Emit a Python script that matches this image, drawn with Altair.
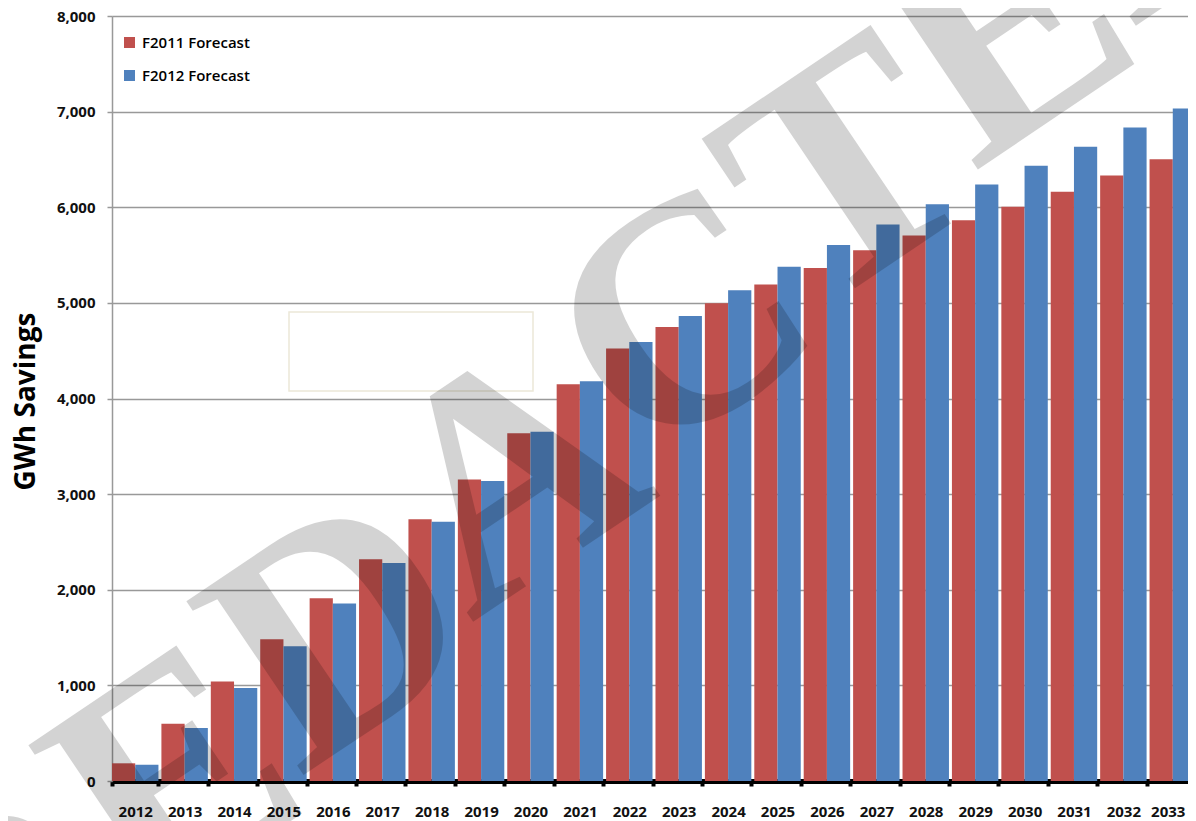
import altair as alt
import pandas as pd
import math

years = [str(y) for y in range(2012, 2034)]
f2011 = [185, 600, 1040, 1482, 1911, 2319, 2737, 3153, 3637, 4150, 4523,
         4749, 4997, 5192, 5366, 5551, 5705, 5865, 6004, 6161, 6333, 6503]
f2012 = [170, 554, 973, 1409, 1856, 2281, 2710, 3138, 3651, 4181, 4592,
         4864, 5133, 5377, 5604, 5820, 6032, 6238, 6433, 6632, 6835, 7033]
series = ["F2011 Forecast", "F2012 Forecast"]
colors = ["#C0504D", "#4F81BD"]
y_ticks = [0, 1000, 2000, 3000, 4000, 5000, 6000, 7000, 8000]
watermark = "REDACTED"

rows = []
for i, yr in enumerate(years):
    rows.append({"year": yr, "series": series[0], "value": f2011[i]})
    rows.append({"year": yr, "series": series[1], "value": f2012[i]})
df = pd.DataFrame(rows)

FONT = "Open Sans"

bars = alt.Chart(df).mark_bar().encode(
    x=alt.X("year:N", sort=years,
            scale=alt.Scale(paddingInner=0.06, paddingOuter=0.0),
            axis=alt.Axis(title=None, labelAngle=0, labelFont=FONT, labelFontSize=15,
                          labelFontWeight="bold", labelColor="#111",
                          labelOffset={"expr": "datum.label == '2033' ? -5 : 0"},
                          domainColor="black", domainWidth=5,
                          tickColor="black", tickWidth=4, tickSize=5,
                          tickBand="extent", labelPadding=18, grid=False)),
    xOffset=alt.XOffset("series:N", sort=series, scale=alt.Scale(paddingInner=0)),
    y=alt.Y("value:Q", scale=alt.Scale(domain=[0, 8000], nice=False),
            axis=alt.Axis(values=y_ticks, format=",d", title="GWh Savings",
                          titleFont=FONT, titleFontSize=28, titleFontWeight="bold",
                          titleColor="black", titleAngle=270, titleX=-86, titleY=385,
                          titleAlign="center", titleBaseline="middle",
                          labelFont=FONT, labelFontSize=15, labelFontWeight="bold",
                          labelColor="#111", labelPadding=12,
                          domainColor="#999", domainWidth=1.5,
                          tickColor="#999", tickSize=5, tickWidth=1.5,
                          gridColor="#999", gridWidth=1.5)),
    color=alt.Color("series:N", sort=series,
                    scale=alt.Scale(domain=series, range=colors),
                    legend=alt.Legend(title=None, orient="none", legendX=10, legendY=19,
                                      symbolType="square", symbolSize=121,
                                      symbolStrokeWidth=0, labelFont=FONT,
                                      labelFontSize=15, labelFontWeight=600,
                                      labelColor="black", rowPadding=17,
                                      labelOffset=5, padding=0)),
)

box = alt.Chart(pd.DataFrame({"k": [0]})).mark_rect(
    fill="white", fillOpacity=0, stroke="#ece8d8", strokeWidth=1.5
).encode(x=alt.value(177), x2=alt.value(421), y=alt.value(296), y2=alt.value(375))

# Watermark: letters laid along a rising baseline, each glyph tilted a little less
WM_SIZE = 320
WM_ADV = {"R": 0.722, "E": 0.667, "D": 0.722, "A": 0.722, "C": 0.722, "T": 0.667}
base_ang = math.radians(42)
total = sum(WM_ADV[c] for c in watermark) * WM_SIZE
cx, cy = 480, 392
wm_rows = []
pos = -total / 2
for ch in watermark:
    w = WM_ADV[ch] * WM_SIZE
    s = pos + w / 2
    wm_rows.append({"ch": ch, "px": cx + s * math.cos(base_ang),
                    "py": cy - s * math.sin(base_ang)})
    pos += w

wm = alt.Chart(pd.DataFrame(wm_rows)).mark_text(
    font="Liberation Serif", fontSize=WM_SIZE, fontWeight="bold", angle=326,
    align="center", baseline="middle", color="black", opacity=0.17
).encode(text="ch:N",
         x=alt.X("px:Q", scale=None, axis=None),
         y=alt.Y("py:Q", scale=None, axis=None))

chart = alt.layer(box, bars, wm).properties(
    width=1084, height=765,
    autosize=alt.AutoSizeParams(type="none"),
    padding={"left": 104, "top": 8, "right": -8, "bottom": 40},
).configure_view(stroke=None).configure(background="white")

chart.save("out.html", embed_options={"renderer": "svg", "actions": False})
